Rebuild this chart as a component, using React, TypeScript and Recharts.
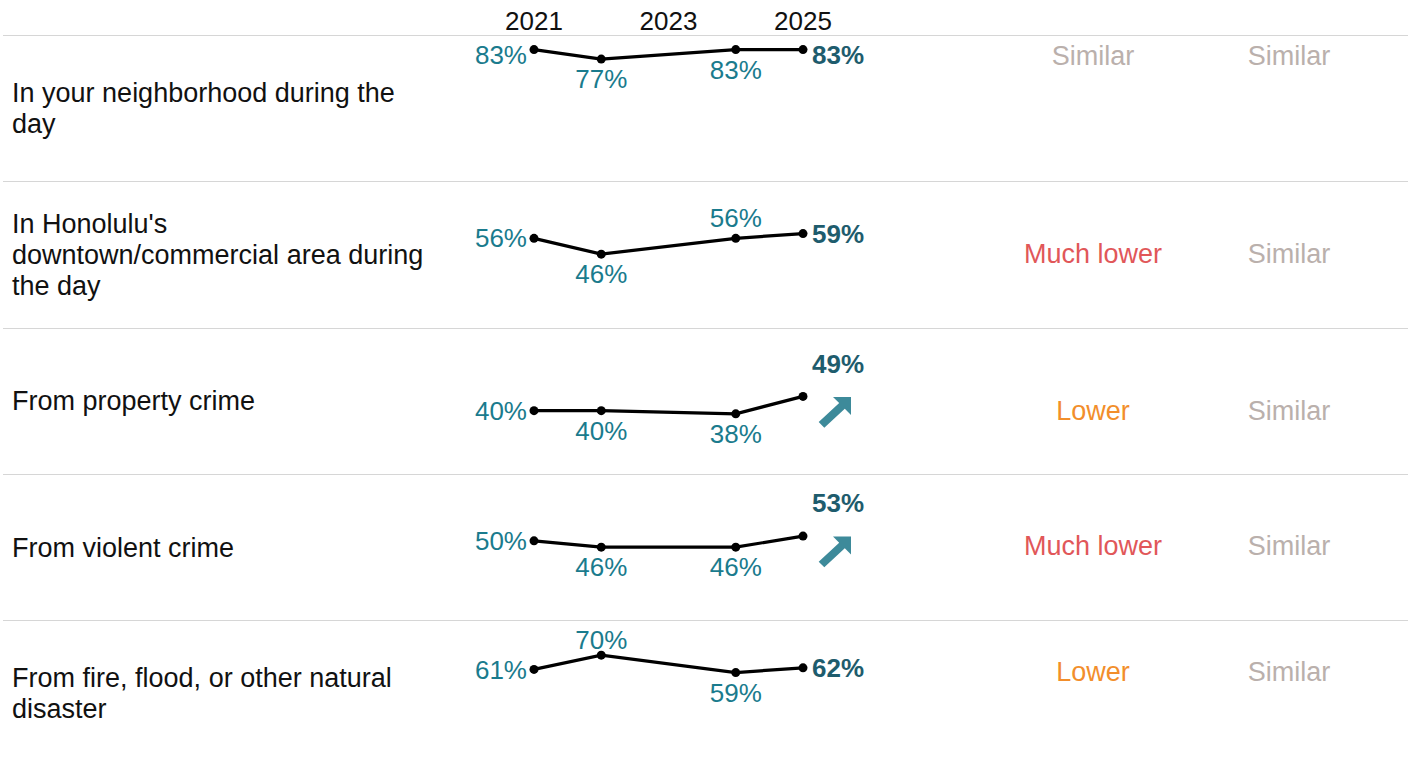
import React from "react";
import { LineChart, Line, XAxis, YAxis } from "recharts";

// ---------- data ----------
const years = [2021, 2022, 2024, 2025];
const tickYears = [2021, 2023, 2025];
const categories = [
  "In your neighborhood during the day",
  "In Honolulu's downtown/commercial area during the day",
  "From property crime",
  "From violent crime",
  "From fire, flood, or other natural disaster",
];
const neighborhoodDay = [83, 77, 83, 83];
const downtownDay = [56, 46, 56, 59];
const propertyCrime = [40, 40, 38, 49];
const violentCrime = [50, 46, 46, 53];
const naturalDisaster = [61, 70, 59, 62];
const comparisonA = ["Similar", "Much lower", "Lower", "Much lower", "Lower"];
const comparisonB = ["Similar", "Similar", "Similar", "Similar", "Similar"];
const significantRise = [false, false, true, true, false];

const seriesByRow = [neighborhoodDay, downtownDay, propertyCrime, violentCrime, naturalDisaster];

// ---------- layout / style ----------
const FONT = "'Liberation Sans', Arial, Helvetica, sans-serif";
const ROW_TOP = 35;
const ROW_H = 146.3;
const CHART_LEFT = 434;
const CHART_W = 469;
const PLOT_MARGIN = { top: 0, right: 100, bottom: 0, left: 100 };
const Y_MAX = 92.2;
const labelSpots = [
  ["left", "below", "below", "right"],
  ["left", "below", "above", "right"],
  ["left", "below", "below", "top"],
  ["left", "below", "below", "top"],
  ["left", "above", "below", "right"],
];
const verdictCenters = [21, 72.7, 83.4, 72.5, 52];
const TEAL = "#1a7b8d";
const TEAL_DARK = "#1e5c6d";
const ARROW = "#3d8a9a";
const verdictColors: Record<string, string> = {
  Similar: "#bab0ac",
  "Much lower": "#e15759",
  Lower: "#f28e2b",
};

function Arrow({ cx, cy }: { cx: number; cy: number }) {
  const pts = [
    [15.5, -14],
    [15.5, 4],
    [9.3, -2.2],
    [-11.2, 16.8],
    [-16.8, 11.2],
    [3.7, -7.8],
    [-2.5, -14],
  ]
    .map(([a, b]) => `${cx + a},${cy + b}`)
    .join(" ");
  return <polygon points={pts} fill={ARROW} />;
}

function makeLabel(row: number) {
  return (props: any) => {
    const { x, y, value, index } = props;
    if (x == null || y == null) return null;
    const spot = labelSpots[row][index];
    const minC = 20;
    let tx = x;
    let cy = y;
    let anchor: "start" | "middle" | "end" = "middle";
    let weight = 400;
    let fill = TEAL;
    if (spot === "left") {
      tx = x - 7;
      anchor = "end";
      cy = Math.max(y, minC);
    } else if (spot === "below") {
      cy = y + 20;
    } else if (spot === "above") {
      cy = Math.max(y - 20, minC);
    } else if (spot === "right") {
      tx = x + 9;
      anchor = "start";
      cy = Math.max(y, minC);
      weight = 700;
      fill = TEAL_DARK;
    } else if (spot === "top") {
      tx = x + 9;
      anchor = "start";
      cy = y - 33;
      weight = 700;
      fill = TEAL_DARK;
    }
    return (
      <g key={`lbl-${row}-${index}`}>
        <text
          x={tx}
          y={cy}
          dy="0.35em"
          textAnchor={anchor}
          fontSize={26}
          fontWeight={weight}
          fill={fill}
          fontFamily={FONT}
        >
          {`${value}%`}
        </text>
        {spot === "top" && significantRise[row] ? <Arrow cx={x + 32.5} cy={y + 14.5} /> : null}
      </g>
    );
  };
}

function RowLabel({ text }: { text: string }) {
  const words = text.split(" ");
  return (
    <>
      {words.map((w, i) => (
        <React.Fragment key={i}>
          <span style={{ whiteSpace: "nowrap" }}>{w}</span>
          {i < words.length - 1 ? " " : ""}
        </React.Fragment>
      ))}
    </>
  );
}

export default function App() {
  const headerData = years.map((year) => ({ year }));
  return (
    <div
      style={{
        position: "absolute",
        left: 0,
        top: 0,
        width: 1413,
        height: 759,
        overflow: "hidden",
        background: "#fff",
        fontFamily: FONT,
      }}
    >
      {/* header years */}
      <div style={{ position: "absolute", left: CHART_LEFT, top: 0 }}>
        <LineChart width={CHART_W} height={35} data={headerData} margin={PLOT_MARGIN}>
          <XAxis
            dataKey="year"
            type="number"
            domain={[2021, 2025]}
            ticks={tickYears}
            interval={0}
            orientation="top"
            height={34}
            axisLine={false}
            tickLine={false}
            tickSize={0}
            tickMargin={4}
            tick={{ fontSize: 26, fill: "#111", fontFamily: FONT }}
          />
          <YAxis hide domain={[0, 1]} />
        </LineChart>
      </div>

      {categories.map((cat, i) => {
        const top = ROW_TOP + i * ROW_H;
        const data = years.map((year, k) => ({ year, value: seriesByRow[i][k] }));
        return (
          <React.Fragment key={cat}>
            <div
              style={{
                position: "absolute",
                left: 3,
                width: 1405,
                top: top,
                height: 1,
                background: "#d6d6d6",
              }}
            />
            <div
              style={{
                position: "absolute",
                left: 12,
                width: 420,
                top: top + 1,
                height: ROW_H,
                display: "flex",
                alignItems: "center",
                fontSize: 27,
                lineHeight: "31px",
                color: "#111",
              }}
            >
              <div>
                <RowLabel text={cat} />
              </div>
            </div>
            <div style={{ position: "absolute", left: CHART_LEFT, top: top }}>
              <LineChart width={CHART_W} height={146} data={data} margin={PLOT_MARGIN}>
                <XAxis hide dataKey="year" type="number" domain={[2021, 2025]} />
                <YAxis hide domain={[0, Y_MAX]} />
                <Line
                  dataKey="value"
                  stroke="#000"
                  strokeWidth={3.2}
                  dot={{ r: 4.5, fill: "#000", stroke: "#000", strokeWidth: 0 }}
                  activeDot={false}
                  isAnimationActive={false}
                  label={makeLabel(i)}
                />
              </LineChart>
            </div>
            {[comparisonA[i], comparisonB[i]].map((v, j) => (
              <div
                key={j}
                style={{
                  position: "absolute",
                  left: (j === 0 ? 1093 : 1289) - 110,
                  width: 220,
                  textAlign: "center",
                  top: top + verdictCenters[i] - 13.5,
                  height: 27,
                  lineHeight: "27px",
                  fontSize: 27,
                  color: verdictColors[v],
                  whiteSpace: "nowrap",
                }}
              >
                {v}
              </div>
            ))}
          </React.Fragment>
        );
      })}
    </div>
  );
}
